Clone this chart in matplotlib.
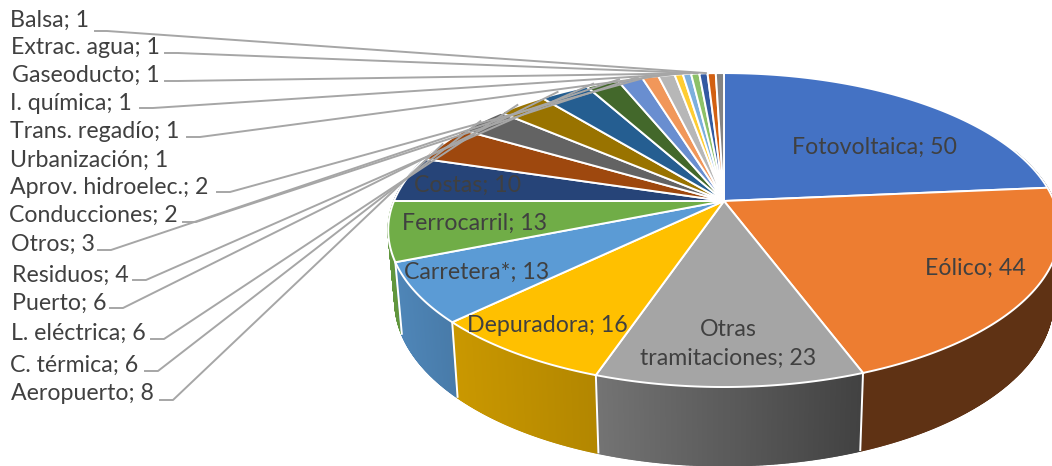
import numpy as np
import matplotlib
matplotlib.use('Agg')
import matplotlib.pyplot as plt
from matplotlib.collections import PolyCollection

plt.rcParams['font.family'] = ['Lato', 'DejaVu Sans']

# Data
names = ['Fotovoltaica', 'Eólico', 'Otras\ntramitaciones', 'Depuradora', 'Carretera*', 'Ferrocarril',
         'Costas', 'Aeropuerto', 'C. térmica', 'L. eléctrica', 'Puerto', 'Residuos', 'Otros',
         'Conducciones', 'Aprov. hidroelec.', 'Urbanización', 'Trans. regadío', 'I. química',
         'Gaseoducto', 'Extrac. agua', 'Balsa']
values = [50, 44, 23, 16, 13, 13, 10, 8, 6, 6, 6, 4, 3, 2, 2, 1, 1, 1, 1, 1, 1]
colors = ['#4472C4', '#ED7D31', '#A5A5A5', '#FFC000', '#5B9BD5', '#70AD47', '#264478', '#9E480E',
          '#636363', '#997300', '#255E91', '#43682B', '#698ED0', '#F1975A', '#B7B7B7', '#FFCD33',
          '#7CAFDD', '#8CC168', '#335AA1', '#D26012', '#848484']

# Label placement (pixels): name -> x, y
inside_pos = {'Fotovoltaica': (875, 147), 'Eólico': (975, 268), 'Otras\ntramitaciones': (728, 344),
              'Depuradora': (547, 325), 'Carretera*': (477, 272), 'Ferrocarril': (475, 223),
              'Costas': (468, 185)}
outside_pos = {'Balsa': (10, 20), 'Extrac. agua': (11, 47), 'Gaseoducto': (12, 75), 'I. química': (10, 103),
               'Trans. regadío': (10, 131), 'Urbanización': (10, 160), 'Aprov. hidroelec.': (10, 188),
               'Conducciones': (9, 215), 'Otros': (11, 244), 'Residuos': (12, 275), 'Puerto': (12, 303),
               'L. eléctrica': (11, 333), 'C. térmica': (10, 365), 'Aeropuerto': (11, 394)}
# Leader stubs: start x, end x, y
stubs = {'Balsa': (95, 107, 31), 'Extrac. agua': (165, 178, 53), 'Gaseoducto': (165, 178, 81),
         'I. química': (140, 153, 108), 'Trans. regadío': (187, 200, 137), 'Aprov. hidroelec.': (217, 230, 192),
         'Conducciones': (183, 196, 222), 'Otros': (98, 111, 250), 'Residuos': (133, 146, 280),
         'Puerto': (110, 123, 308), 'L. eléctrica': (151, 164, 339), 'C. térmica': (145, 158, 371),
         'Aeropuerto': (160, 173, 400)}

# Perspective of the pie
CX, CY = 724, 201
A, B, K = 330, 151.6, 0.185
DEPTH = 69.5


def project(theta):
    u, v = np.sin(theta), np.cos(theta)
    w = 1 + K * v
    return CX + A * u / w, CY - B * v / w


def lower(x, y):
    return CX + 0.98 * (x - CX), y + DEPTH + 0.05 * (y - CY)


def shade(x):
    return np.interp(x, [390, 455, 597, 860], [0.87, 0.79, 0.70, 0.40])


fractions = np.array(values) / sum(values)
edges = np.concatenate([[0], np.cumsum(fractions)]) * 2 * np.pi

fig = plt.figure(figsize=(10.52, 4.66), dpi=100)
ax = fig.add_axes([0, 0, 1, 1])
ax.set_xlim(0, 1052)
ax.set_ylim(466, 0)
ax.axis('off')

# Side wall
quads, quad_cols, quad_v = [], [], []
for i in range(len(values)):
    rgb = np.array(matplotlib.colors.to_rgb(colors[i]))
    th = np.arange(edges[i], edges[i + 1], np.radians(0.2))
    th = np.append(th, edges[i + 1])
    for t0, t1 in zip(th[:-1], th[1:]):
        if np.cos((t0 + t1) / 2) > 0.35:
            continue
        x0, y0 = project(t0)
        x1, y1 = project(t1)
        xb0, yb0 = lower(x0, y0)
        xb1, yb1 = lower(x1, y1)
        quads.append([(x0, y0), (x1, y1), (xb1, yb1), (xb0, yb0)])
        quad_cols.append(tuple(rgb * shade((x0 + x1) / 2)))
        quad_v.append(np.cos((t0 + t1) / 2))
order = np.argsort(quad_v)[::-1]
ax.add_collection(PolyCollection([quads[j] for j in order], facecolors=[quad_cols[j] for j in order],
                                 edgecolors=[quad_cols[j] for j in order], linewidths=1.0, zorder=1))

# White separators on the wall
for i in range(1, 6):
    x, y = project(edges[i])
    xb, yb = lower(x, y)
    ax.plot([x, xb], [y, yb], color='white', lw=1.4, zorder=2, solid_capstyle='butt')

# Top slices
for i in range(len(values)):
    th = np.linspace(edges[i], edges[i + 1], 80)
    x, y = project(th)
    ax.fill(np.r_[CX, x], np.r_[CY, y], facecolor=colors[i], edgecolor='white', lw=1.4,
            joinstyle='miter', zorder=3)

# Leader lines, the ones near the top stop a bit short of their slice
for name, (x0, x1, y) in stubs.items():
    i = names.index(name)
    mid = (edges[i] + edges[i + 1]) / 2
    xe, ye = project(mid)
    xe -= 14 * max(np.cos(mid), 0) ** 4
    ax.plot([x0, x1, xe], [y, y, ye], color='#A6A6A6', lw=1.4, zorder=4, solid_joinstyle='round')

# Labels
for name, (x, y) in inside_pos.items():
    i = names.index(name)
    ax.text(x, y, f'{name}; {values[i]}', ha='center', va='center', fontsize=16.7, color='#404040',
            zorder=5, linespacing=1.46, multialignment='center')
for name, (x, y) in outside_pos.items():
    i = names.index(name)
    ax.text(x, y, f'{name}; {values[i]}', ha='left', va='center', fontsize=16.7, color='#404040', zorder=5)

fig.savefig('out.png', dpi=100)
